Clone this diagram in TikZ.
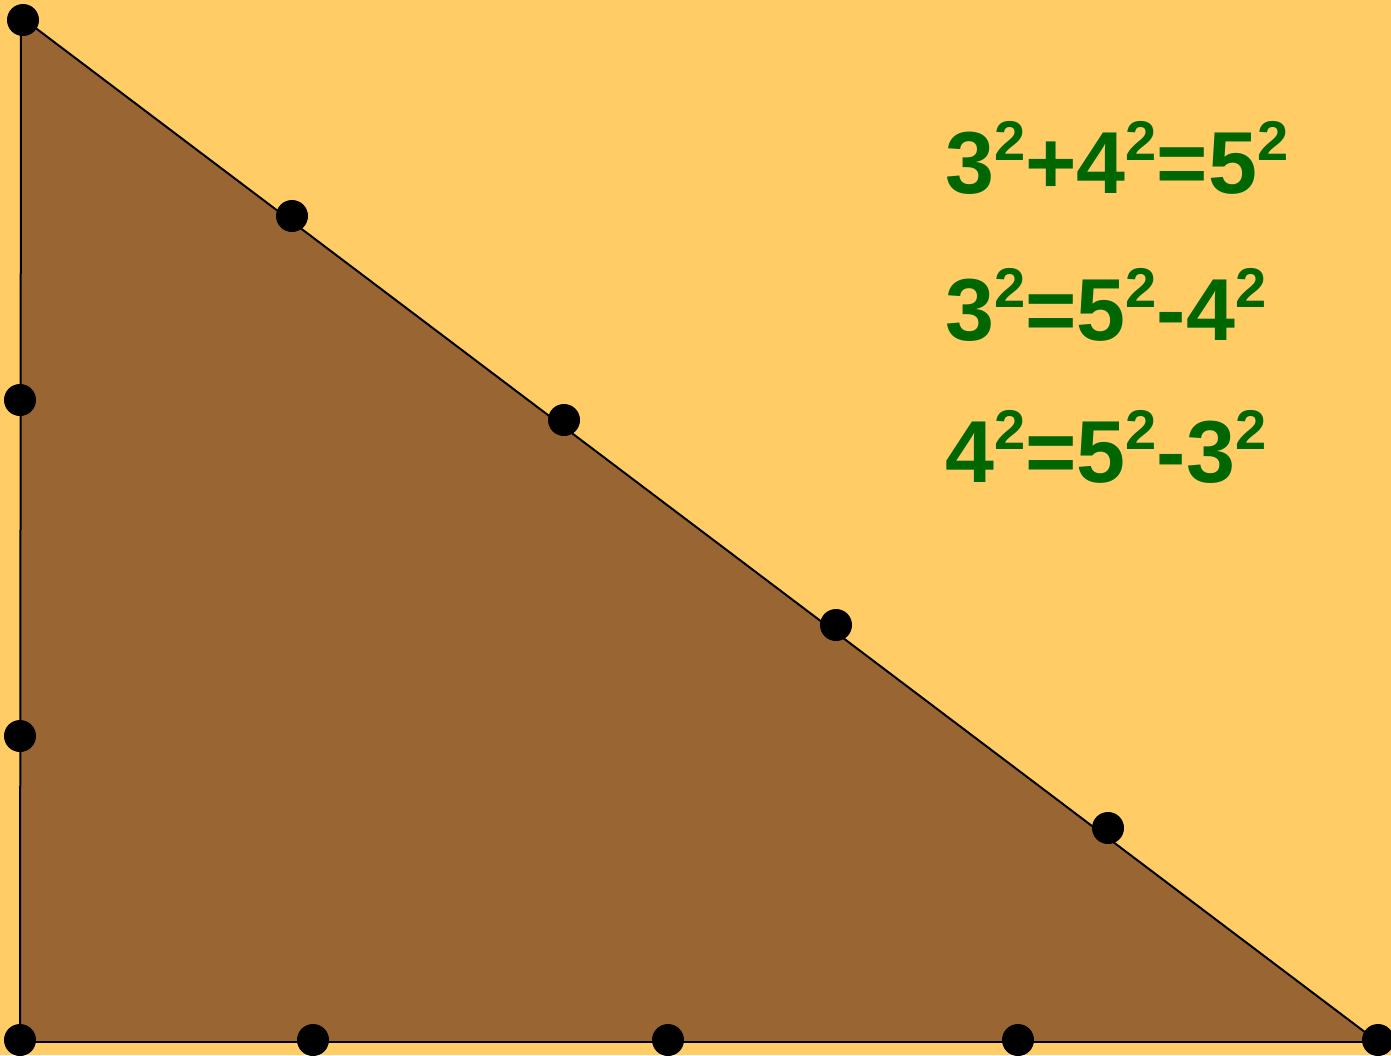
\documentclass[tikz,border=0pt]{standalone}
\usepackage{fontspec}
\setmainfont{Liberation Sans}
\definecolor{bgc}{RGB}{255,204,102}
\definecolor{tric}{RGB}{153,102,51}
\definecolor{eqc}{RGB}{0,102,0}
\newcommand{\sq}[1]{#1\raisebox{16.5pt}{\fontsize{28}{28}\selectfont 2}}
\begin{document}
\begin{tikzpicture}[x=0.5pt,y=-0.5pt,
  dot/.style={circle,fill=black,inner sep=0pt,minimum size=16pt},
  edge/.style={draw=black,line width=1pt},
  eq/.style={anchor=base west,inner sep=0pt,text=eqc,font=\fontsize{44}{44}\selectfont\bfseries}]
\fill[bgc] (0,0) rectangle (1391,1055);
\useasboundingbox (0,0) rectangle (1391,1055);
\coordinate (A) at (21,17);
\coordinate (C) at (20,1042);
\coordinate (B) at (1378,1042);
\fill[tric] (A) -- (C) -- (B) -- cycle;
\draw[edge] (A) -- (C);
\draw[edge] (C) -- (B);
\draw[edge] (B) -- (A);
% dots
\node[dot] (pA) at (23,20) {};
\node[dot] (h1) at (292,216) {};
\node[dot] (h2) at (564,420) {};
\node[dot] (h3) at (836,625) {};
\node[dot] (h4) at (1108,828) {};
\node[dot] (pB) at (1378,1040) {};
\node[dot] (v1) at (20,400) {};
\node[dot] (v2) at (20,736) {};
\node[dot] (pC) at (20,1040) {};
\node[dot] (b1) at (313,1040) {};
\node[dot] (b2) at (668,1040) {};
\node[dot] (b3) at (1018,1040) {};
% equations
\node[eq] (e1) at (945,193) {\sq{3}+\sq{4}=\sq{5}};
\node[eq] (e2) at (945,340) {\sq{3}=\sq{5}-\sq{4}};
\node[eq] (e3) at (945,482) {\sq{4}=\sq{5}-\sq{3}};
\end{tikzpicture}
\end{document}
